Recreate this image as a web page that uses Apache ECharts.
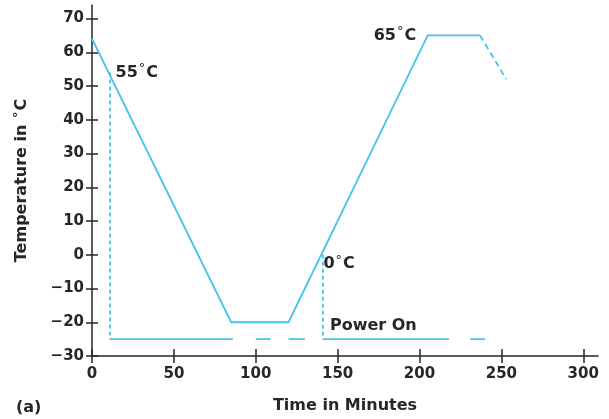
<!DOCTYPE html>
<html>
<head>
<meta charset="utf-8">
<script src="https://cdn.jsdelivr.net/npm/echarts@6/dist/echarts.min.js"></script>
<style>
	html, body { margin: 0; padding: 0; background: #fff; }
	#chart { width: 609px; height: 419px; }
</style>
</head>
<body>
<div id="chart"></div>
<script>
// temperature profile
var rampTime = [0, 85, 120, 205, 237];
var rampTemp = [64, -20, -20, 65, 65];
var coolTime = [237, 253];
var coolTemp = [65, 52];
// power line at -25, drawn in pieces (start, end)
var powerLevel = -25;
var powerSegs = [[11, 86], [100, 109], [120, 130], [141, 218], [231, 240]];
// dashed drops from the ramp to the power line
var dropTime = [11, 141];
var dropTemp = [54, 0];

var xTicks = [0, 50, 100, 150, 200, 250, 300];
var yTicks = [-30, -20, -10, 0, 10, 20, 30, 40, 50, 60, 70];

// notes: [time, temp, text, where]
var notes = [
	[11, 54, '55', 'r'],
	[205, 65, '65', 'l'],
	[141, 0, '0', 'b'],
	[145, -21, 'Power On', 'p'],
];

var ink = '#262626';
var cyan = '#45c4ee';
var font = 'DejaVu Sans';

function pairs(xs, ys) {
	return xs.map(function(x, i) {
		return [x, ys[i]];
	});
}

var powerData = [];
powerSegs.forEach(function(s, i) {
	if (i > 0) powerData.push([s[0], '-']);
	powerData.push([s[0], powerLevel]);
	powerData.push([s[1], powerLevel]);
});

var dropSeries = dropTime.map(function(t, i) {
	return {
		type: 'line',
		data: [[t, dropTemp[i]], [t, powerLevel]],
		symbol: 'none',
		silent: true,
		lineStyle: { color: cyan, width: 1.8, type: [4, 3] },
	};
});

var degStyle = { fontFamily: font, fontSize: 13, color: ink, padding: [0, 1, 7, 1] };
var rich = {
	n: { fontFamily: font, fontWeight: 'bold', fontSize: 16, color: ink },
	d: degStyle,
};

var noteData = notes.map(function(n) {
	var lbl;
	if (n[3] === 'p') {
		lbl = { show: true, position: 'right', distance: 0, formatter: '{n|' + n[2] + '}' };
	} else {
		var txt = '{n|' + n[2] + '}{d|°}{n|C}';
		if (n[3] === 'r') lbl = { show: true, position: 'right', distance: 5, formatter: txt };
		if (n[3] === 'l') lbl = { show: true, position: 'left', distance: 11, formatter: txt };
		if (n[3] === 'b') lbl = { show: true, position: 'right', distance: 0, offset: [0, 9], formatter: txt };
	}
	return { value: [n[0], n[1]], label: lbl };
});

function xAxisDef(inside, labels) {
	return {
		type: 'value',
		position: 'bottom',
		min: 0,
		max: 309,
		splitLine: { show: false },
		axisLine: { show: labels, onZero: false, lineStyle: { color: ink, width: 1.5 } },
		axisTick: { show: true, inside: inside, length: 7, customValues: xTicks, lineStyle: { color: ink, width: 1.5 } },
		axisLabel: {
			show: labels,
			customValues: xTicks,
			margin: 11,
			color: ink,
			fontFamily: font,
			fontWeight: 'bold',
			fontSize: 15,
		},
		name: labels ? 'Time in Minutes' : '',
		nameLocation: 'middle',
		nameGap: 42,
		nameTextStyle: { color: ink, fontFamily: font, fontWeight: 'bold', fontSize: 16 },
	};
}

function yAxisDef(inside, labels) {
	return {
		type: 'value',
		position: 'left',
		min: -30,
		max: 74,
		splitLine: { show: false },
		axisLine: { show: labels, onZero: false, lineStyle: { color: ink, width: 1.5 } },
		axisTick: { show: true, inside: inside, length: 6, customValues: yTicks, lineStyle: { color: ink, width: 1.5 } },
		axisLabel: {
			show: labels,
			customValues: yTicks,
			margin: 8,
			color: ink,
			fontFamily: font,
			fontWeight: 'bold',
			fontSize: 15,
			formatter: function(v) {
				return v < 0 ? '\u2212' + Math.abs(v) : String(v);
			},
		},
		name: labels ? 'Temperature in {d|°}C' : '',
		nameLocation: 'middle',
		nameGap: 60,
		nameRotate: 90,
		nameTextStyle: {
			color: ink,
			fontFamily: font,
			fontWeight: 'bold',
			fontSize: 16,
			rich: { d: degStyle },
		},
	};
}

var chart = echarts.init(document.getElementById('chart'));
chart.setOption({
	animation: false,
	backgroundColor: '#fff',
	grid: { left: 92, right: 11, top: 5, bottom: 61, containLabel: false },
	xAxis: [xAxisDef(false, true), xAxisDef(true, false)],
	yAxis: [yAxisDef(false, true), yAxisDef(true, false)],
	graphic: [
		{
			type: 'text',
			left: 16,
			top: 400,
			style: { text: '(a)', fill: ink, font: 'bold 16px "DejaVu Sans"' },
		},
	],
	series: [
		{
			type: 'line',
			data: pairs(rampTime, rampTemp),
			symbol: 'none',
			silent: true,
			lineStyle: { color: cyan, width: 1.8 },
		},
		{
			type: 'line',
			data: pairs(coolTime, coolTemp),
			symbol: 'none',
			silent: true,
			lineStyle: { color: cyan, width: 1.8, type: [6, 4] },
		},
		{
			type: 'line',
			data: powerData,
			symbol: 'none',
			silent: true,
			connectNulls: false,
			lineStyle: { color: cyan, width: 1.8 },
		},
	].concat(dropSeries, [
		{
			type: 'scatter',
			data: noteData,
			symbolSize: 1,
			silent: true,
			itemStyle: { color: 'rgba(0,0,0,0)', opacity: 1 },
			label: { rich: rich },
		},
	]),
});
</script>
</body>
</html>
